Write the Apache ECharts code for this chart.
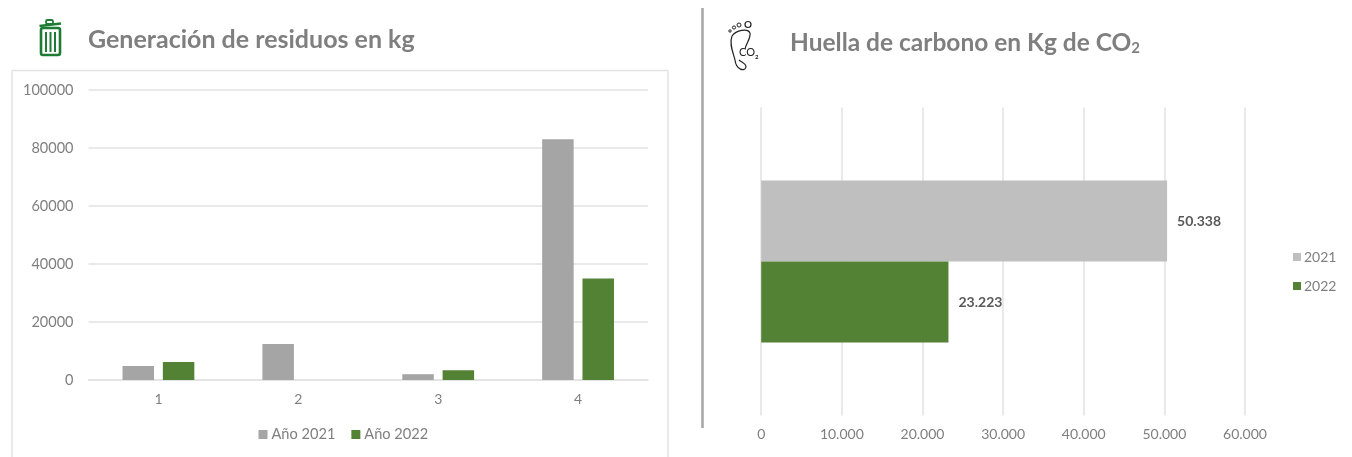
<!DOCTYPE html>
<html><head><meta charset="utf-8">
<style>html,body{margin:0;padding:0;background:#fff}#c{width:1352px;height:457px}</style>
<script src="https://cdn.jsdelivr.net/npm/echarts@6/dist/echarts.min.js"></script>
</head><body><div id="c"></div>
<script>
const wasteCategories = ['1','2','3','4'];
const waste2021 = [4800,12400,2000,83000];
const waste2022 = [6200,0,3400,35000];
const carbonCategories = ['Huella'];
const carbon2021 = [50338];
const carbon2022 = [23223];
const wasteTitle = 'Generación de residuos en kg';
const FONT = 'Lato, "Open Sans", sans-serif';
const GREY='#a5a5a5', LGREY='#bfbfbf', GREEN='#548235', LINE='#e2e2e2';
const fmtDot = v => String(v).replace(/\B(?=(\d{3})+$)/g,'.');
const INK='#222';
const curve = (x1,y1,cpx1,cpy1,cpx2,cpy2,x2,y2) => ({type:'bezierCurve',shape:{x1,y1,cpx1,cpy1,cpx2,cpy2,x2,y2},style:{fill:null,stroke:INK,lineWidth:1.2}});

const chart = echarts.init(document.getElementById('c'),null,{renderer:'canvas'});
chart.setOption({
  animation:false,
  backgroundColor:'#fff',
  textStyle:{fontFamily:FONT},
  title:[
    {text:wasteTitle,left:88,top:27,padding:0,textStyle:{fontFamily:FONT,fontSize:25,fontWeight:'bold',color:'#7f7f7f'}},
    {text:'Huella de carbono en Kg de CO{s|2}',left:790,top:31,padding:0,textStyle:{fontFamily:FONT,fontSize:24.5,fontWeight:'bold',color:'#7f7f7f',
      rich:{s:{fontFamily:FONT,fontSize:15,fontWeight:'bold',color:'#7f7f7f',verticalAlign:'bottom',padding:[8,0,0,0]}}}}
  ],
  legend:[
    {data:['Año 2021','Año 2022'],left:258.5,top:427,padding:0,itemWidth:9,itemHeight:9,itemGap:16,
     icon:'rect',textStyle:{fontFamily:FONT,fontSize:14.6,color:'#7f7f7f',padding:[0,0,0,-1]}},
    {data:['2021','2022'],orient:'vertical',left:1293,top:250,padding:0,itemWidth:8,itemHeight:8,itemGap:15,
     icon:'rect',textStyle:{fontFamily:FONT,fontSize:14,color:'#7f7f7f',padding:[0,0,0,-2]}}
  ],
  grid:[
    {left:88.5,top:90,width:559.5,height:290},
    {left:761.2,top:107.5,width:483.8,height:308}
  ],
  xAxis:[
    {type:'category',gridIndex:0,data:wasteCategories,
     axisLine:{lineStyle:{color:LINE,width:1.5}},axisTick:{show:false},
     axisLabel:{fontFamily:FONT,fontSize:14,color:'#7f7f7f',margin:12}},
    {type:'value',gridIndex:1,min:0,max:60000,interval:10000,
     axisLine:{show:false},axisTick:{show:false},
     splitLine:{lineStyle:{color:LINE,width:1.5}},
     axisLabel:{fontFamily:FONT,fontSize:14,color:'#7f7f7f',margin:11.5,formatter:fmtDot}}
  ],
  yAxis:[
    {type:'value',gridIndex:0,min:0,max:100000,interval:20000,
     axisLine:{show:false},axisTick:{show:false},
     splitLine:{lineStyle:{color:LINE,width:1.5}},
     axisLabel:{fontFamily:FONT,fontSize:14.5,color:'#7f7f7f',margin:15,padding:[0,0,7,0],formatter:v=>String(v)}},
    {type:'category',gridIndex:1,data:carbonCategories,inverse:true,
     axisLine:{show:false},axisTick:{show:false},axisLabel:{show:false}}
  ],
  series:[
    {name:'Año 2021',type:'bar',xAxisIndex:0,yAxisIndex:0,data:waste2021,barWidth:31.5,barGap:'28%',itemStyle:{color:GREY}},
    {name:'Año 2022',type:'bar',xAxisIndex:0,yAxisIndex:0,data:waste2022,barWidth:31.5,barGap:'28%',itemStyle:{color:GREEN}},
    {name:'2021',type:'bar',xAxisIndex:1,yAxisIndex:1,data:carbon2021,barWidth:81,barGap:0,itemStyle:{color:LGREY},
     label:{show:true,position:'right',distance:10,formatter:p=>fmtDot(p.value),fontFamily:FONT,fontSize:14,fontWeight:'bold',color:'#595959'}},
    {name:'2022',type:'bar',xAxisIndex:1,yAxisIndex:1,data:carbon2022,barWidth:81,barGap:0,itemStyle:{color:GREEN},
     label:{show:true,position:'right',distance:10,formatter:p=>fmtDot(p.value),fontFamily:FONT,fontSize:14,fontWeight:'bold',color:'#595959'}}
  ],
  graphic:[
    {type:'polyline',silent:true,z:-1,shape:{points:[[12,457],[12,70.5],[668,70.5],[668,457]]},style:{fill:null,stroke:'#e4e4e4',lineWidth:1.5}},
    {type:'line',silent:true,shape:{x1:702.5,y1:8,x2:702.5,y2:428},style:{stroke:'#a6a6a6',lineWidth:2.5}},
    {type:'group',silent:true,children:[
      {type:'rect',shape:{x:41,y:28,width:19,height:27,r:2},style:{fill:'#fff',stroke:'#1e7b34',lineWidth:2.6}},
      {type:'line',shape:{x1:39.5,y1:26,x2:61,y2:23.5},style:{stroke:'#1e7b34',lineWidth:2.4}},
      {type:'rect',shape:{x:46,y:20,width:7,height:4,r:1.5},style:{fill:null,stroke:'#1e7b34',lineWidth:1.8}},
      {type:'line',shape:{x1:46,y1:32,x2:46,y2:52},style:{stroke:'#1e7b34',lineWidth:2}},
      {type:'line',shape:{x1:50.5,y1:32,x2:50.5,y2:52},style:{stroke:'#1e7b34',lineWidth:2}},
      {type:'line',shape:{x1:55,y1:32,x2:55,y2:52},style:{stroke:'#1e7b34',lineWidth:2}}
    ]},
    {type:'group',silent:true,children:[
      {type:'circle',shape:{cx:730,cy:31,r:1.2},style:{fill:null,stroke:INK,lineWidth:1}},
      {type:'circle',shape:{cx:734,cy:27.5,r:1.6},style:{fill:null,stroke:INK,lineWidth:1}},
      {type:'circle',shape:{cx:739,cy:25,r:2},style:{fill:null,stroke:INK,lineWidth:1}},
      {type:'circle',shape:{cx:748,cy:24.5,r:3},style:{fill:null,stroke:INK,lineWidth:1.2}},
      curve(732,36,736,30,748,28,750,33),
      curve(750,33,751,38,746,44,745,49),
      curve(732,36,729,44,733,52,735,60),
      curve(735,60,736,70,745,72,746,67),
      curve(746,67,746,63,741,62,739,60),
      {type:'text',style:{x:739,y:47,text:'CO',fontFamily:FONT,fontSize:11,fill:INK}},
      {type:'text',style:{x:755,y:54,text:'2',fontFamily:FONT,fontSize:6,fontWeight:'bold',fill:INK}}
    ]}
  ]
});
</script></body></html>
